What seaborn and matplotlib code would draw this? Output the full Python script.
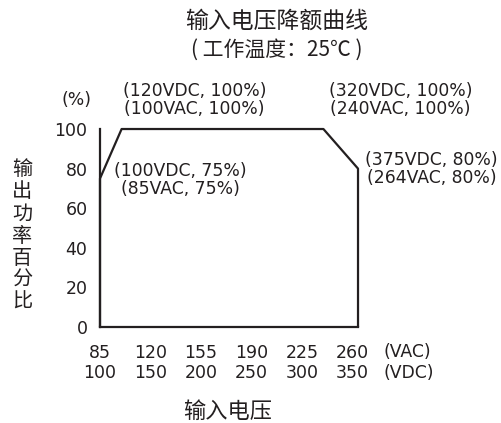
import seaborn as sns
import matplotlib.pyplot as plt
import pandas as pd

# derating curve points (VAC, %)
vac = [85, 85, 100, 240, 264, 264]
load = [0, 75, 100, 100, 80, 0]

vac_ticks = [85, 120, 155, 190, 225, 260]
vdc_ticks = [100, 150, 200, 250, 300, 350]
y_ticks = [0, 20, 40, 60, 80, 100]

notes = [
    (100, 100, "(120VDC, 100%)\n(100VAC, 100%)"),
    (240, 100, "(320VDC, 100%)\n(240VAC, 100%)"),
    (85, 75, "(100VDC, 75%)\n(85VAC, 75%)"),
    (264, 80, "(375VDC, 80%)\n(264VAC, 80%)"),
]

sns.set_style("white")
plt.rcParams['font.family'] = ['DejaVu Sans', 'Noto Sans CJK SC']
ink = "#231f20"

df = pd.DataFrame({"vac": vac, "load": load})

fig = plt.figure(figsize=(5.01, 4.23), dpi=100)
ax = fig.add_axes([0.1996, 0.2270, 0.515, 0.468])

sns.lineplot(data=df, x="vac", y="load", sort=False, estimator=None,
             color=ink, lw=1.6, ax=ax, clip_on=False)

ax.set_xlim(85, 264)
ax.set_ylim(0, 100)
ax.set_xticks(vac_ticks)
ax.set_xticklabels([f"{a}\n{d}" for a, d in zip(vac_ticks, vdc_ticks)],
                   linespacing=1.2)
ax.set_yticks(y_ticks)
ax.tick_params(axis='both', direction='in', length=7, width=1.3, colors=ink,
               labelsize=12.5, labelcolor=ink)
ax.tick_params(axis='x', pad=12)
ax.tick_params(axis='y', pad=9)
ax.set_xlabel("")
ax.set_ylabel("")
for s in ['top', 'right']:
    ax.spines[s].set_visible(False)
for s in ['left', 'bottom']:
    ax.spines[s].set_color(ink)
    ax.spines[s].set_linewidth(1.6)

# annotations
offs = [((73, 11), 'center', 'bottom'), ((77, 11), 'center', 'bottom'),
        ((80, 17), 'center', 'top'), ((7, 0), 'left', 'center')]
for (x, y, t), (o, ha, va) in zip(notes, offs):
    ax.annotate(t, (x, y), xytext=o, textcoords='offset pixels', ha=ha, va=va,
                fontsize=12.4, color=ink, linespacing=1.0, multialignment='center')

fig.text(0.553, 0.950, "输入电压降额曲线", ha='center', va='center', fontsize=16.5, color=ink)
fig.text(0.553, 0.882, "( 工作温度：25℃ )", ha='center', va='center', fontsize=15,
         color=ink, family=['Noto Sans CJK SC', 'DejaVu Sans'])
fig.text(0.153, 0.764, "(%)", ha='center', va='center', fontsize=12.4, color=ink)
fig.text(0.765, 0.143, "(VAC)\n(VDC)", ha='left', va='center', fontsize=12.4,
         color=ink, linespacing=1.2)
fig.text(0.044, 0.442, "\n".join("输出功率百分比"), ha='center', va='center',
         fontsize=14.5, color=ink, linespacing=1.2)
fig.text(0.455, 0.028, "输入电压", ha='center', va='center', fontsize=16, color=ink)

fig.savefig("out.png", dpi=100)
